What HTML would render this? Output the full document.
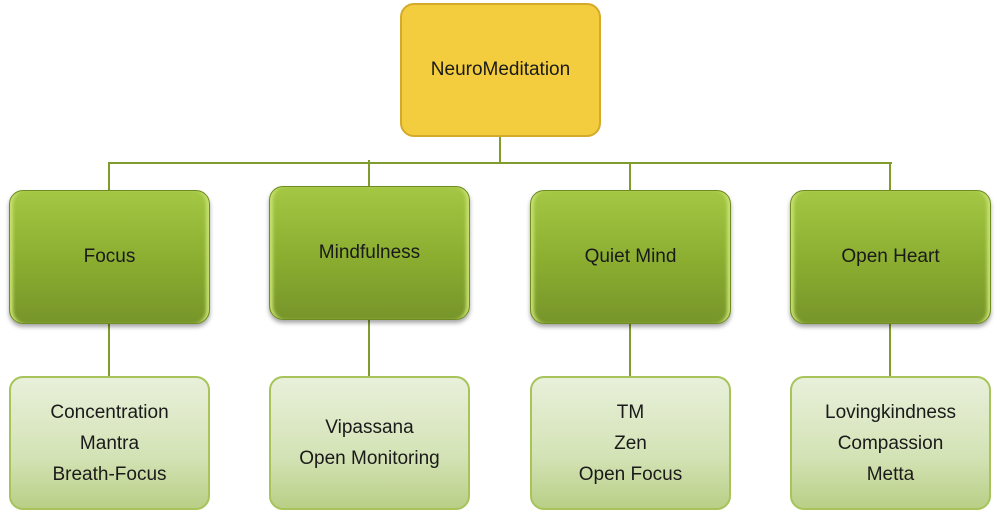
<!DOCTYPE html>
<html><head><style>
body{margin:0;width:1000px;height:513px;background:#fff;position:relative;overflow:hidden;font-family:"Liberation Sans",sans-serif;color:#1a1a1a}
.b{position:absolute;display:flex;align-items:center;justify-content:center;text-align:center;box-sizing:border-box}
.root{left:400px;top:3px;width:201px;height:134px;background:#f3cd3e;border:2px solid #d4aa2a;border-radius:14px;font-size:19px}
.g{width:201px;height:134px;border-radius:14px;background:linear-gradient(#a4c744,#8aad30 55%,#77952a);border:1px solid #6f8c22;box-shadow:0 3px 4px rgba(0,0,0,.35),inset 5px 0 3px -2px #c5e070,inset -5px 0 3px -2px #c5e070;font-size:19px}
.l{width:201px;height:134px;border-radius:14px;background:linear-gradient(#e8f0da,#d4e3b6 60%,#b9cf86);border:2px solid #a6c45a;font-size:19px;line-height:31px}
.v{position:absolute;width:2px;background:#7f9c2c}
.h{position:absolute;height:2px;background:#7f9c2c}
</style></head><body>
<div class="v" style="left:499px;top:137px;height:25px"></div>
<div class="h" style="left:108px;top:162px;width:784px"></div>
<div class="v" style="left:108px;top:162px;height:28px"></div>
<div class="v" style="left:368px;top:160px;height:26px"></div>
<div class="v" style="left:629px;top:162px;height:28px"></div>
<div class="v" style="left:889px;top:162px;height:28px"></div>
<div class="v" style="left:108px;top:323px;height:54px"></div>
<div class="v" style="left:368px;top:320px;height:57px"></div>
<div class="v" style="left:629px;top:323px;height:54px"></div>
<div class="v" style="left:889px;top:323px;height:54px"></div>
<div class="b root">NeuroMeditation</div>
<div class="b g" style="left:9px;top:190px">Focus</div>
<div class="b g" style="left:269px;top:186px">Mindfulness</div>
<div class="b g" style="left:530px;top:190px">Quiet Mind</div>
<div class="b g" style="left:790px;top:190px">Open Heart</div>
<div class="b l" style="left:9px;top:376px">Concentration<br>Mantra<br>Breath-Focus</div>
<div class="b l" style="left:269px;top:376px">Vipassana<br>Open Monitoring</div>
<div class="b l" style="left:530px;top:376px">TM<br>Zen<br>Open Focus</div>
<div class="b l" style="left:790px;top:376px">Lovingkindness<br>Compassion<br>Metta</div>
</body></html>
